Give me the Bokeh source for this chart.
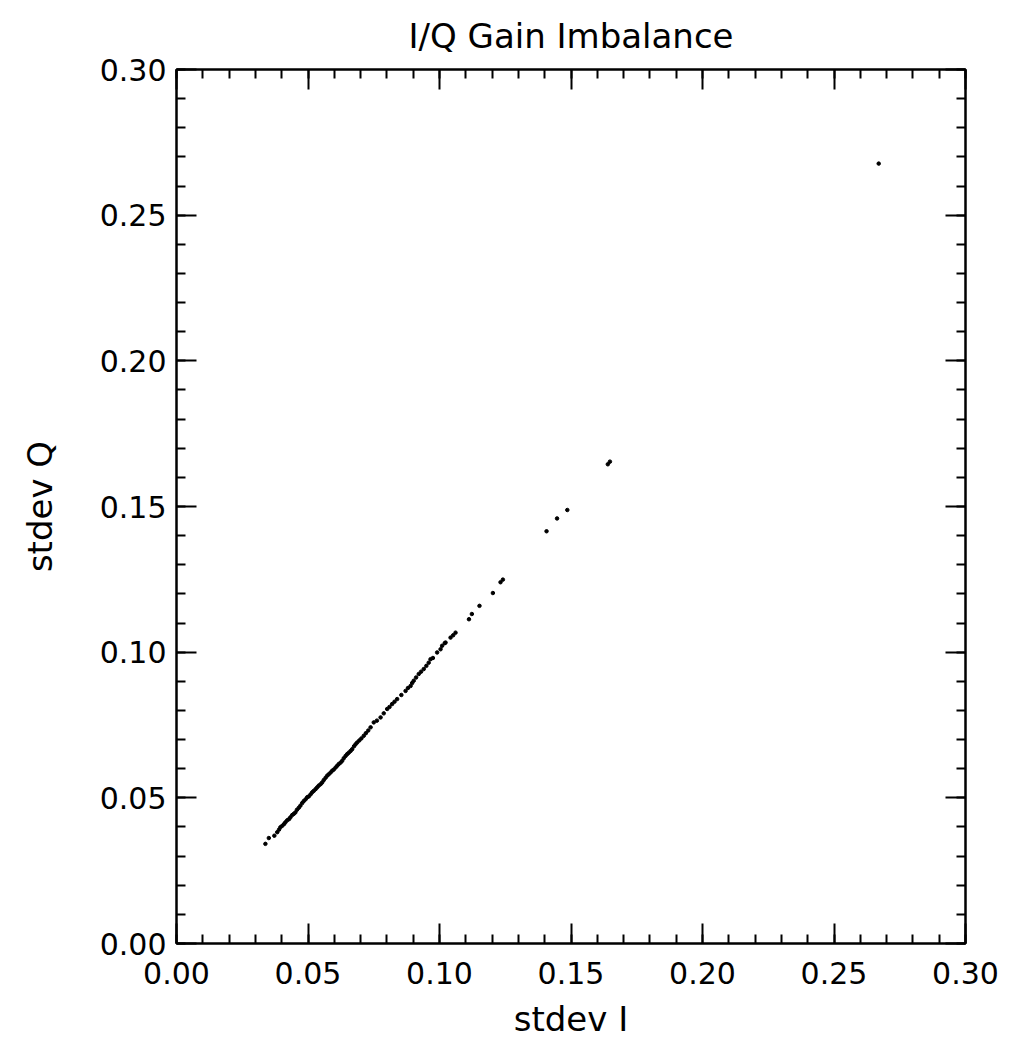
from bokeh.plotting import figure
from bokeh.models import Range1d, FixedTicker, LinearAxis
from bokeh.embed import file_html
from bokeh.resources import INLINE

title_text = "I/Q Gain Imbalance"
x_label = "stdev I"
y_label = "stdev Q"
tick_values = [0.0, 0.05, 0.10, 0.15, 0.20, 0.25, 0.30]
tick_labels = ["0.00", "0.05", "0.10", "0.15", "0.20", "0.25", "0.30"]
minor_tick_values = [round(i * 0.01, 2) for i in range(0, 31)]

stdev_i = [0.0338, 0.0351, 0.0372, 0.0383, 0.0390, 0.0395, 0.0402, 0.0409, 0.0414, 0.0421,
           0.0428, 0.0433, 0.0440, 0.0446, 0.0452, 0.0458, 0.0465, 0.0471, 0.0478, 0.0484,
           0.0491, 0.0497, 0.0503, 0.0510, 0.0516, 0.0522, 0.0529, 0.0535, 0.0541, 0.0548,
           0.0554, 0.0560, 0.0567, 0.0573, 0.0579, 0.0586, 0.0592, 0.0598, 0.0605, 0.0611,
           0.0617, 0.0624, 0.0630, 0.0636, 0.0643, 0.0649, 0.0655, 0.0662, 0.0668, 0.0675,
           0.0681, 0.0687, 0.0695, 0.0703, 0.0712, 0.0720, 0.0729, 0.0738, 0.0750, 0.0762,
           0.0776, 0.0788, 0.0801, 0.0810, 0.0820, 0.0829, 0.0839, 0.0855, 0.0871, 0.0880,
           0.0890, 0.0896, 0.0902, 0.0911, 0.0921, 0.0930, 0.0940, 0.0950, 0.0959, 0.0966,
           0.0975, 0.0991, 0.1004, 0.1010, 0.1020, 0.1023, 0.1042, 0.1052, 0.1061, 0.1112,
           0.1123, 0.1152, 0.1203, 0.1232, 0.1241, 0.1407, 0.1447, 0.1486, 0.1640, 0.1648,
           0.2670]
stdev_q = [0.0342, 0.0362, 0.0370, 0.0382, 0.0391, 0.0399, 0.0404, 0.0410, 0.0416, 0.0423,
           0.0427, 0.0433, 0.0441, 0.0445, 0.0450, 0.0459, 0.0466, 0.0473, 0.0482, 0.0489,
           0.0495, 0.0502, 0.0505, 0.0512, 0.0519, 0.0524, 0.0530, 0.0536, 0.0542, 0.0547,
           0.0553, 0.0561, 0.0569, 0.0576, 0.0581, 0.0587, 0.0593, 0.0597, 0.0604, 0.0610,
           0.0616, 0.0621, 0.0627, 0.0636, 0.0644, 0.0650, 0.0655, 0.0661, 0.0667, 0.0677,
           0.0684, 0.0690, 0.0697, 0.0704, 0.0713, 0.0722, 0.0731, 0.0742, 0.0759, 0.0765,
           0.0776, 0.0790, 0.0805, 0.0812, 0.0822, 0.0830, 0.0839, 0.0853, 0.0867, 0.0877,
           0.0884, 0.0894, 0.0902, 0.0913, 0.0925, 0.0933, 0.0942, 0.0953, 0.0964, 0.0976,
           0.0980, 0.0999, 0.1010, 0.1022, 0.1031, 0.1033, 0.1050, 0.1058, 0.1067, 0.1113,
           0.1131, 0.1159, 0.1203, 0.1240, 0.1249, 0.1415, 0.1459, 0.1488, 0.1645, 0.1654,
           0.2677]

FONT = "DejaVu Sans"

p = figure(width=1005, height=1048, output_backend="svg", toolbar_location=None,
           x_range=Range1d(0, 0.3), y_range=Range1d(0, 0.3),
           min_border_left=176, min_border_right=40, min_border_top=68, min_border_bottom=105,
           x_axis_location=None, y_axis_location=None)
p.background_fill_color = "white"
p.border_fill_color = "white"
p.grid.visible = False
p.outline_line_color = "black"
p.outline_line_width = 2

p.title.text = title_text
p.title.align = "center"
p.title.text_font = FONT
p.title.text_font_size = "34px"
p.title.text_font_style = "normal"
p.title.text_color = "black"
p.title.offset = 0
p.title.standoff = 27

overrides = {v: s for v, s in zip(tick_values, tick_labels)}

def make_axis(show_labels, label=None):
    ax = LinearAxis(ticker=FixedTicker(ticks=tick_values, minor_ticks=minor_tick_values))
    ax.axis_line_color = "black"
    ax.axis_line_width = 2
    ax.major_tick_in = 20
    ax.major_tick_out = 0
    ax.minor_tick_in = 9
    ax.minor_tick_out = 0
    ax.major_tick_line_width = 2
    ax.minor_tick_line_width = 2
    ax.major_tick_line_color = "black"
    ax.minor_tick_line_color = "black"
    ax.major_label_text_font = FONT
    ax.major_label_text_font_size = "30px"
    ax.major_label_text_color = "black" if show_labels else None
    ax.major_label_overrides = overrides
    if label:
        ax.axis_label = label
        ax.axis_label_text_font = FONT
        ax.axis_label_text_font_size = "34px"
        ax.axis_label_text_font_style = "normal"
        ax.axis_label_text_color = "black"
    return ax

xb = make_axis(True, x_label)
xb.major_label_standoff = 18
xb.axis_label_standoff = 12
p.add_layout(xb, "below")

yl = make_axis(True, y_label)
yl.major_label_standoff = 10
yl.axis_label_standoff = 37
p.add_layout(yl, "left")

xt = make_axis(False)
xt.major_label_text_font_size = "0px"
xt.major_label_standoff = 0
p.add_layout(xt, "above")

yr = make_axis(False)
yr.major_label_text_font_size = "0px"
yr.major_label_standoff = 0
p.add_layout(yr, "right")

p.scatter(x=stdev_i, y=stdev_q, marker="circle", size=3.5, color="black")

open("out.html", "w").write(file_html(p, INLINE))
